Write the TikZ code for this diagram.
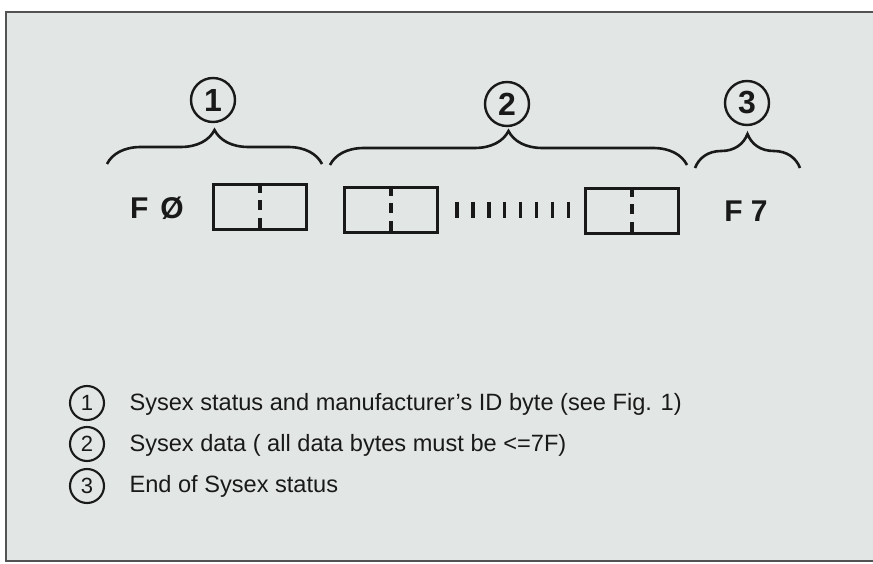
\documentclass[tikz,border=0pt]{standalone}
\usepackage{fontspec}
\setmainfont{Liberation Sans}
\usetikzlibrary{positioning, decorations.pathreplacing}
\definecolor{paper}{RGB}{226,230,229}
\definecolor{ink}{RGB}{25,25,25}

\begin{document}
\begin{tikzpicture}[x=1pt,y=-1pt,
  bytebox/.style={draw=ink,line width=3.2pt,minimum width=93pt,minimum height=45pt,inner sep=0pt},
  bignum/.style={circle,draw=ink,line width=2.4pt,minimum size=44pt,inner sep=0pt,
    font=\fontsize{32}{32}\selectfont\bfseries,text=ink},
  smallnum/.style={circle,draw=ink,line width=2.1pt,minimum size=34pt,inner sep=0pt,
    font=\fontsize{22}{22}\selectfont,text=ink},
  statbyte/.style={font=\fontsize{30}{30}\selectfont\bfseries,text=ink},
  legend/.style={anchor=west,font=\fontsize{23.6}{24}\selectfont,text=ink},
  curly/.style={decorate,decoration={brace,amplitude=34pt},draw=ink,line width=2.6pt}]
  \useasboundingbox (0,0) rectangle (873,564);
  \clip (0,0) rectangle (873,564);
  \draw[ink!75,line width=1.3pt,fill=paper] (6,12) rectangle (890,561);

  % message bytes
  \node[statbyte] (fzero) at (157,208) {F\hspace{0.4em}Ø};
  \node[bytebox] (box1) at (260,207) {};
  \node[bytebox] (box2) at (391,210) {};
  \node[bytebox] (box3) at (632,211) {};
  \node[statbyte] (fseven) at (746,211) {F 7};
  \foreach \b in {box1,box2,box3}
    \draw[ink,line width=3.4pt,dash pattern=on 10pt off 7.5pt]
      (\b.north) -- (\b.south);
  \foreach \i in {0,...,7}
    \draw[ink,line width=3.5pt] ({457+\i*15.9},202) -- ++(0,16);

  % braces
  \coordinate (b1l) at (107,164);
  \coordinate (b1r) at (322,164);
  \coordinate (b2l) at (330,165);
  \coordinate (b2r) at (687,165);
  \coordinate (b3l) at (695,168);
  \coordinate (b3r) at (800,168);
  \draw[curly] (b1l) -- (b1r);
  \draw[curly] (b2l) -- (b2r);
  \draw[curly] (b3l) -- (b3r);
  \node[bignum] (num1) at (213,100) {1};
  \node[bignum] (num2) at (507,104) {2};
  \node[bignum] (num3) at (747,103) {3};

  % legend
  \node[smallnum] (key1) at (87,403) {1};
  \node[smallnum] (key2) at (87,444) {2};
  \node[smallnum] (key3) at (87,486) {3};
  \node[legend] (txt1) at (126,404) {Sysex status and manufacturer's ID byte (see Fig. 1)};
  \node[legend] (txt2) at (126,445) {Sysex data ( all data bytes must be <=7F)};
  \node[legend] (txt3) at (126,486) {End of Sysex status};
\end{tikzpicture}
\end{document}
